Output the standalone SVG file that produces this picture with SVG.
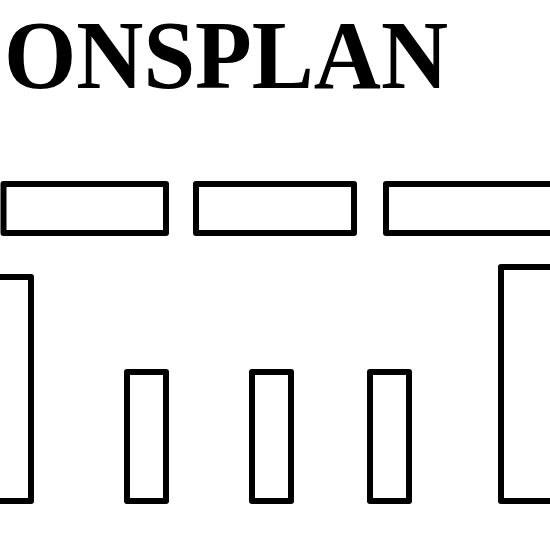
<svg xmlns="http://www.w3.org/2000/svg" width="550" height="550" viewBox="0 0 550 550">
<style>
.box{fill:#fff;stroke:#000;stroke-width:6;stroke-linejoin:round}
.title{font-family:"Liberation Serif","Times New Roman",serif;font-weight:bold;font-size:98px;fill:#000}
</style>
<rect width="550" height="550" fill="#fff"/>
<g id="title"><text class="title" x="4" y="88" textLength="444" lengthAdjust="spacingAndGlyphs">ONSPLAN</text></g>
<g id="top1"><rect class="box" x="3.5" y="184" width="162.5" height="49"/></g>
<g id="top2"><rect class="box" x="196" y="184" width="158" height="49"/></g>
<g id="top3"><rect class="box" x="386" y="184" width="170" height="49"/></g>
<g id="leftTall"><rect class="box" x="-10" y="277" width="41" height="224"/></g>
<g id="small1"><rect class="box" x="127" y="372" width="39" height="129"/></g>
<g id="small2"><rect class="box" x="252" y="372" width="39" height="129"/></g>
<g id="small3"><rect class="box" x="370" y="372" width="39" height="129"/></g>
<g id="rightTall"><rect class="box" x="501" y="267" width="60" height="234"/></g>
<g id="connectors"></g>
</svg>
